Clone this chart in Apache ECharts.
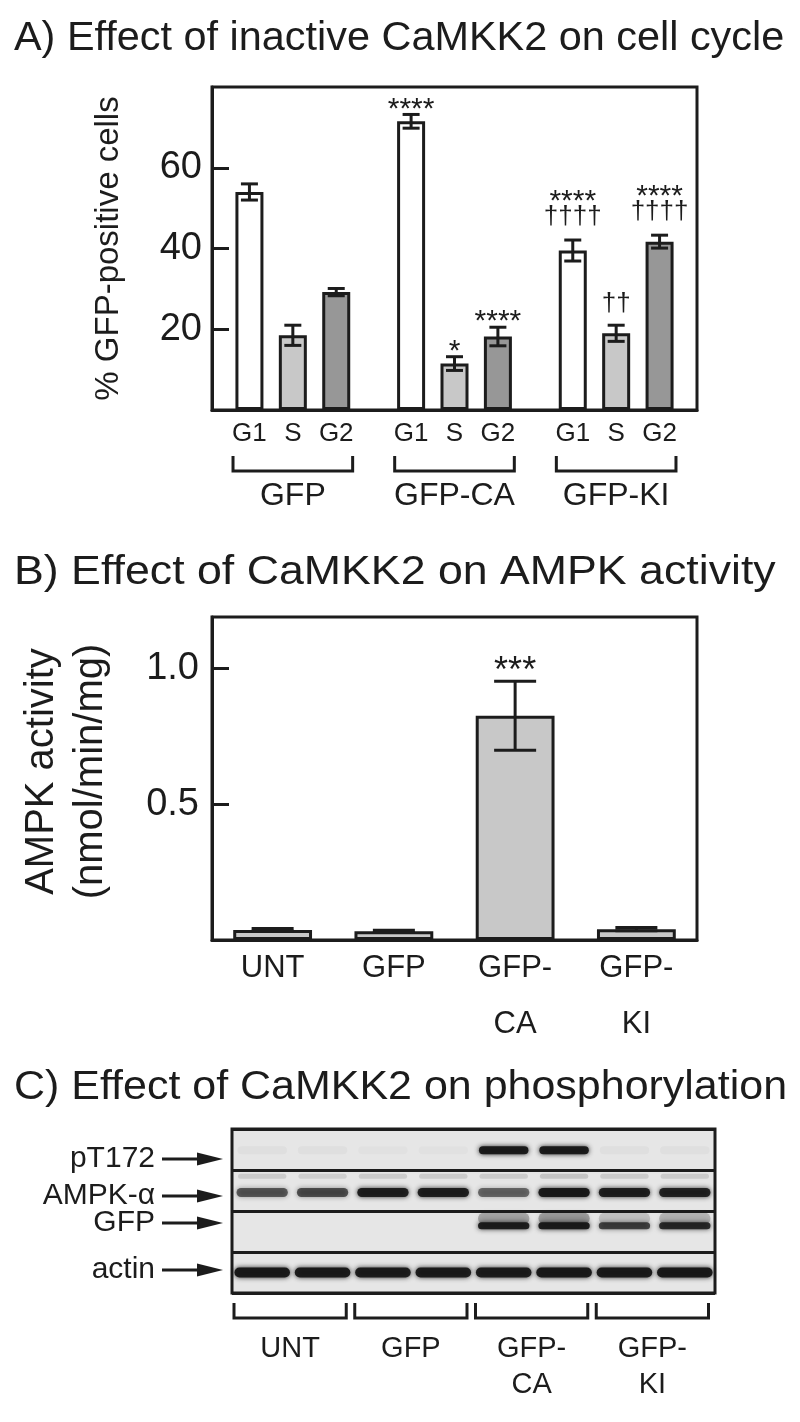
<!DOCTYPE html>
<html><head><meta charset="utf-8">
<script src="https://cdn.jsdelivr.net/npm/echarts@6/dist/echarts.min.js"></script>
<style>html,body{margin:0;padding:0;background:#fff}#c{width:800px;height:1422px}</style>
</head><body><div id="c"></div>
<script>
// ---------------- DATA ----------------
// Panel A: % GFP-positive cells per cell-cycle phase
const groupsA = ['GFP', 'GFP-CA', 'GFP-KI'];
const phases = ['G1', 'S', 'G2'];
const g1Mean = [54.0, 71.5, 39.5];
const g1Sem  = [2.0, 1.7, 2.6];
const sMean  = [18.5, 11.5, 19.0];
const sSem   = [2.5, 1.7, 2.0];
const g2Mean = [29.2, 18.2, 41.7];
const g2Sem  = [0.9, 2.3, 1.6];
const g1Sig  = ['', '****', '****\n††††'];
const sSig   = ['', '*', '††'];
const g2Sig  = ['', '****', '****\n††††'];
const yMinA = 0, yMaxA = 80, yStepA = 20;
const yTicksA = [20, 40, 60];

// Panel B: AMPK activity (nmol/min/mg)
const groupsB = ['UNT', 'GFP', 'GFP-\nCA', 'GFP-\nKI'];
const ampkMean = [0.037, 0.032, 0.826, 0.040];
const ampkSem  = [0.005, 0.004, 0.127, 0.006];
const ampkSig  = ['', '', '***', ''];
const yMinB = 0, yMaxB = 1.19, yStepB = 0.5;
const yTicksB = [0.5, 1.0];

// Panel C: western blot band intensities (0..1), 8 lanes
const lanes = ['1', '2', '3', '4', '5', '6', '7', '8'];
const blotRows = ['pT172', 'AMPK-α', 'GFP', 'actin'];
const laneGroups = ['UNT', 'GFP', 'GFP-\nCA', 'GFP-\nKI'];
const pT172Band = [0.03, 0.03, 0.02, 0.02, 0.95, 0.95, 0.03, 0.03];
const ampkBand  = [0.62, 0.66, 0.92, 0.92, 0.55, 0.96, 0.92, 0.9];
const ampkUpper = [0.12, 0.10, 0.12, 0.12, 0.12, 0.15, 0.12, 0.12];
const gfpBand   = [0.0, 0.0, 0.0, 0.0, 0.92, 0.95, 0.72, 0.85];
const gfpSmear  = [0.0, 0.0, 0.0, 0.0, 0.28, 0.32, 0.16, 0.22];
const actinBand = [0.96, 0.95, 0.93, 0.93, 0.93, 0.96, 0.95, 0.96];

// ---------------- STYLE ----------------
const FONT = '"Liberation Sans", Arial, Helvetica, sans-serif';
const INK = '#1c1c1c';
const BAR_W = 28, BAR_GAP = 0.55, STEP = BAR_W * (1 + BAR_GAP);
const phaseFill = ['#ffffff', '#c8c8c8', '#979797'];
const bandPos = [0.52, 0.55, 0.36, 0.5];
const bandH = [8, 9, 7, 10];
const rowLabelShift = [9.5, 5.5, -8.5, -2.5];

function sigChildren(x, yT, sig, astSize, single) {
  const out = [];
  if (!sig) return out;
  const lines = sig.split('\n');
  const put = (txt, center) => {
    const isAst = txt.indexOf('*') >= 0;
    const fs = isAst ? astSize : 26;
    const y = isAst ? center + 0.23 * fs : center - 1.5;
    out.push({type: 'text', style: {text: txt, x: x, y: y, align: 'center', verticalAlign: 'middle',
      fontSize: fs, fontFamily: FONT, fill: INK}});
  };
  if (lines.length === 2) { put(lines[0], yT - 45); put(lines[1], yT - 22); }
  else if (lines[0].indexOf('*') >= 0) { put(lines[0], yT - single); }
  else { put(lines[0], yT - 20); }
  return out;
}

function errRenderer(k, means, sems, sigs) {
  return function (params, api) {
    const i = params.dataIndex;
    const cat = api.value(0);
    const x = api.coord([cat, means[i]])[0] + (k - 1) * STEP;
    const yT = api.coord([cat, means[i] + sems[i]])[1];
    const yB = api.coord([cat, means[i] - sems[i]])[1];
    const base = api.coord([cat, 0])[1];
    const hw = 8.5;
    const ls = {stroke: INK, lineWidth: 3};
    const ch = [
      {type: 'line', shape: {x1: x, y1: yT, x2: x, y2: yB}, style: ls},
      {type: 'line', shape: {x1: x - hw, y1: yT, x2: x + hw, y2: yT}, style: ls},
      {type: 'line', shape: {x1: x - hw, y1: yB, x2: x + hw, y2: yB}, style: ls},
      {type: 'text', style: {text: phases[k], x: x, y: base + 24, align: 'center', verticalAlign: 'middle',
        fontSize: 26, fontFamily: FONT, fill: INK}}
    ].concat(sigChildren(x, yT, sigs[i], 30, 12));
    return {type: 'group', children: ch};
  };
}

function errRendererB(params, api) {
  const i = params.dataIndex;
  const x = api.coord([i, ampkMean[i]])[0];
  const yT = api.coord([i, ampkMean[i] + ampkSem[i]])[1];
  const yB = api.coord([i, ampkMean[i] - ampkSem[i]])[1];
  const hw = 21;
  const ls = {stroke: INK, lineWidth: 3};
  const ch = [
    {type: 'line', shape: {x1: x, y1: yT, x2: x, y2: yB}, style: ls},
    {type: 'line', shape: {x1: x - hw, y1: yT, x2: x + hw, y2: yT}, style: ls},
    {type: 'line', shape: {x1: x - hw, y1: yB, x2: x + hw, y2: yB}, style: ls}
  ].concat(sigChildren(x, yT, ampkSig[i], 36, 18));
  return {type: 'group', children: ch};
}

function bracketA(params, api) {
  const c = api.coord([api.value(0), 0]);
  const hw = api.size([1, 0])[0] * 0.37;
  return {type: 'polyline', shape: {points: [[c[0] - hw, c[1] + 46], [c[0] - hw, c[1] + 61], [c[0] + hw, c[1] + 61], [c[0] + hw, c[1] + 46]]},
    style: {stroke: INK, lineWidth: 3, fill: null}};
}

function bandRenderer(values, posArr, hArr, widthFrac, fixedRow) {
  return function (params, api) {
    const i = params.dataIndex;
    const v = values[i];
    if (!v) return null;
    const c = api.coord([i, fixedRow]);
    const sz = api.size([1, 1]);
    const top = c[1] - sz[1] / 2;
    const y = top + posArr * sz[1];
    const w = sz[0] * widthFrac;
    const h = hArr;
    const col = 'rgba(22,22,22,' + v + ')';
    return {type: 'rect', shape: {x: c[0] - w / 2, y: y - h / 2, width: w, height: h, r: h / 2},
      style: {fill: col, shadowBlur: 5, shadowColor: col}};
  };
}

function rowLabelRenderer(params, api) {
  const r = params.dataIndex;
  const y = api.coord([0, r])[1] + rowLabelShift[r];
  const gl = params.coordSys.x;
  return {type: 'group', children: [
    {type: 'text', style: {text: blotRows[r], x: gl - 77, y: y, align: 'right', verticalAlign: 'middle',
      fontSize: 30, fontFamily: FONT, fill: INK}},
    {type: 'line', shape: {x1: gl - 70, y1: y, x2: gl - 30, y2: y}, style: {stroke: INK, lineWidth: 3}},
    {type: 'polygon', shape: {points: [[gl - 35, y - 6.5], [gl - 9, y], [gl - 35, y + 6.5]]}, style: {fill: INK}}
  ]};
}

function laneGroupRenderer(params, api) {
  const g = params.dataIndex;
  const laneW = api.size([1, 0])[0];
  const bottom = params.coordSys.y + params.coordSys.height;
  const xl = api.coord([2 * g, 0])[0] - laneW / 2 + 2;
  const xr = api.coord([2 * g + 1, 0])[0] + laneW / 2 - 6.5;
  return {type: 'group', children: [
    {type: 'polyline', shape: {points: [[xl, bottom + 10], [xl, bottom + 25], [xr, bottom + 25], [xr, bottom + 10]]},
      style: {stroke: INK, lineWidth: 3, fill: null}},
    {type: 'text', style: {text: laneGroups[g], x: (xl + xr) / 2, y: bottom + 38, align: 'center', verticalAlign: 'top',
      fontSize: 29, lineHeight: 36, fontFamily: FONT, fill: INK}}
  ]};
}

const chart = echarts.init(document.getElementById('c'), null, {renderer: 'canvas'});
const idx = (arr) => arr.map((_, i) => [i]);
const titleStyle = (t) => ({text: t, fontSize: 41, fontFamily: FONT, fill: INK, verticalAlign: 'middle'});

const option = {
  animation: false,
  backgroundColor: '#ffffff',
  textStyle: {fontFamily: FONT, color: INK},
  graphic: [
    {type: 'text', x: 14, y: 39, scaleX: 1.01, style: titleStyle('A) Effect of inactive CaMKK2 on cell cycle')},
    {type: 'text', x: 14, y: 573, scaleX: 1.09, style: titleStyle('B) Effect of CaMKK2 on AMPK activity')},
    {type: 'text', x: 14, y: 1088, scaleX: 1.048, style: titleStyle('C) Effect of CaMKK2 on phosphorylation')}
  ],
  grid: [
    {left: 212, top: 87, width: 485, height: 323, show: true, borderColor: INK, borderWidth: 3, outerBoundsMode: 'none'},
    {left: 212, top: 617, width: 485, height: 323, show: true, borderColor: INK, borderWidth: 3, outerBoundsMode: 'none'},
    {left: 232, top: 1129, width: 483, height: 164, show: true, borderColor: INK, borderWidth: 3, backgroundColor: '#e6e6e6', outerBoundsMode: 'none'}
  ],
  xAxis: [
    {gridIndex: 0, type: 'category', data: groupsA, axisLine: {lineStyle: {color: INK, width: 3}}, axisTick: {show: false},
      axisLabel: {margin: 70, fontSize: 32, color: INK, fontFamily: FONT}, splitLine: {show: false}},
    {gridIndex: 1, type: 'category', data: groupsB, axisLine: {lineStyle: {color: INK, width: 3}}, axisTick: {show: false},
      axisLabel: {margin: 0, fontSize: 31, lineHeight: 56, color: INK, fontFamily: FONT, interval: 0}, splitLine: {show: false}},
    {gridIndex: 2, type: 'category', data: lanes, axisLine: {show: false}, axisTick: {show: false}, axisLabel: {show: false}, splitLine: {show: false}}
  ],
  yAxis: [
    {gridIndex: 0, type: 'value', min: yMinA, max: yMaxA, interval: yStepA,
      name: '% GFP-positive cells', nameLocation: 'middle', nameRotate: 90, nameGap: 87,
      nameTextStyle: {fontSize: 33, color: INK, fontFamily: FONT},
      axisLine: {show: true, lineStyle: {color: INK, width: 3}},
      axisTick: {show: true, inside: true, length: 17, customValues: yTicksA, lineStyle: {color: INK, width: 3}},
      axisLabel: {margin: 10, fontSize: 38, color: INK, fontFamily: FONT, customValues: yTicksA},
      splitLine: {show: false}},
    {gridIndex: 1, type: 'value', min: yMinB, max: yMaxB, interval: yStepB,
      name: 'AMPK activity\n(nmol/min/mg)', nameLocation: 'middle', nameRotate: 90, nameGap: 97,
      nameTextStyle: {fontSize: 40, lineHeight: 49, color: INK, fontFamily: FONT, padding: [0, 0, 0, 14]},
      axisLine: {show: true, lineStyle: {color: INK, width: 3}},
      axisTick: {show: true, inside: true, length: 17, customValues: yTicksB, lineStyle: {color: INK, width: 3}},
      axisLabel: {margin: 13, fontSize: 38, color: INK, fontFamily: FONT, customValues: yTicksB, formatter: v => v.toFixed(1)},
      splitLine: {show: false}},
    {gridIndex: 2, type: 'category', data: blotRows, inverse: true, axisLine: {show: false}, axisTick: {show: false},
      axisLabel: {show: false}, splitLine: {show: true, lineStyle: {color: INK, width: 3}}}
  ],
  series: [
    {type: 'bar', name: 'G1', xAxisIndex: 0, yAxisIndex: 0, data: g1Mean, barWidth: BAR_W, barGap: (BAR_GAP * 100) + '%',
      itemStyle: {color: phaseFill[0], borderColor: INK, borderWidth: 3}},
    {type: 'bar', name: 'S', xAxisIndex: 0, yAxisIndex: 0, data: sMean, barWidth: BAR_W, barGap: (BAR_GAP * 100) + '%',
      itemStyle: {color: phaseFill[1], borderColor: INK, borderWidth: 3}},
    {type: 'bar', name: 'G2', xAxisIndex: 0, yAxisIndex: 0, data: g2Mean, barWidth: BAR_W, barGap: (BAR_GAP * 100) + '%',
      itemStyle: {color: phaseFill[2], borderColor: INK, borderWidth: 3}},
    {type: 'custom', xAxisIndex: 0, yAxisIndex: 0, data: idx(g1Mean), renderItem: errRenderer(0, g1Mean, g1Sem, g1Sig), clip: false, z: 5},
    {type: 'custom', xAxisIndex: 0, yAxisIndex: 0, data: idx(sMean), renderItem: errRenderer(1, sMean, sSem, sSig), clip: false, z: 5},
    {type: 'custom', xAxisIndex: 0, yAxisIndex: 0, data: idx(g2Mean), renderItem: errRenderer(2, g2Mean, g2Sem, g2Sig), clip: false, z: 5},
    {type: 'custom', xAxisIndex: 0, yAxisIndex: 0, data: idx(groupsA), renderItem: bracketA, clip: false, z: 5},
    {type: 'bar', xAxisIndex: 1, yAxisIndex: 1, data: ampkMean, barWidth: '65%',
      itemStyle: {color: '#c8c8c8', borderColor: INK, borderWidth: 3}},
    {type: 'custom', xAxisIndex: 1, yAxisIndex: 1, data: idx(ampkMean), renderItem: errRendererB, clip: false, z: 5},
    {type: 'custom', xAxisIndex: 2, yAxisIndex: 2, data: idx(lanes), renderItem: bandRenderer(pT172Band, bandPos[0], bandH[0], 0.82, 0), z: 3},
    {type: 'custom', xAxisIndex: 2, yAxisIndex: 2, data: idx(lanes), renderItem: bandRenderer(ampkUpper, 0.15, 5, 0.8, 1), z: 3},
    {type: 'custom', xAxisIndex: 2, yAxisIndex: 2, data: idx(lanes), renderItem: bandRenderer(ampkBand, bandPos[1], bandH[1], 0.85, 1), z: 3},
    {type: 'custom', xAxisIndex: 2, yAxisIndex: 2, data: idx(lanes), renderItem: bandRenderer(gfpSmear, 0.18, 12, 0.85, 2), z: 3},
    {type: 'custom', xAxisIndex: 2, yAxisIndex: 2, data: idx(lanes), renderItem: bandRenderer(gfpBand, bandPos[2], bandH[2], 0.85, 2), z: 3},
    {type: 'custom', xAxisIndex: 2, yAxisIndex: 2, data: idx(lanes), renderItem: bandRenderer(actinBand, bandPos[3], bandH[3], 0.92, 3), z: 3},
    {type: 'custom', xAxisIndex: 2, yAxisIndex: 2, data: idx(blotRows), renderItem: rowLabelRenderer, clip: false, z: 5},
    {type: 'custom', xAxisIndex: 2, yAxisIndex: 2, data: idx(laneGroups), renderItem: laneGroupRenderer, clip: false, z: 5}
  ]
};
chart.setOption(option);
</script>
</body></html>
